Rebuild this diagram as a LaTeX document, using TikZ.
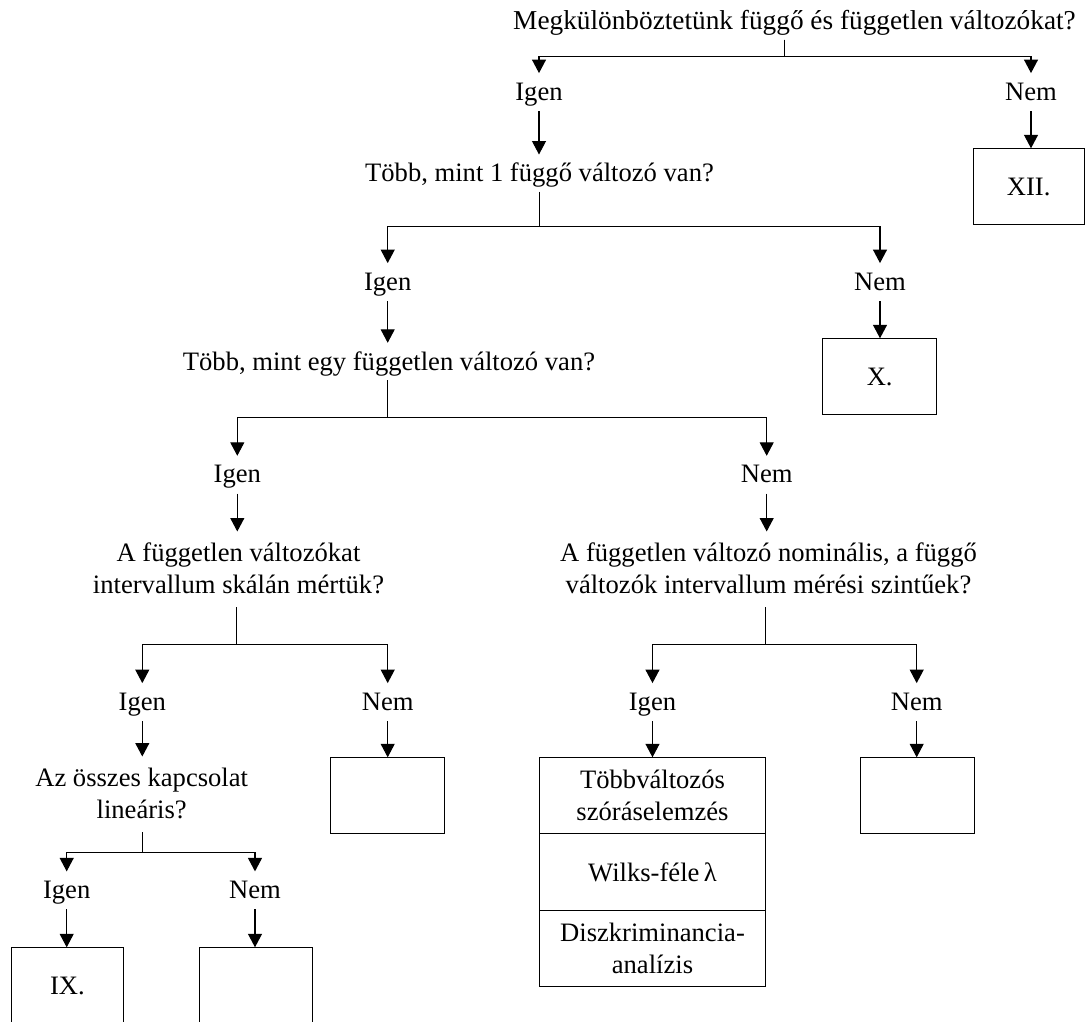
\documentclass[tikz,border=0pt]{standalone}
\usepackage{fontspec}
\setmainfont{Liberation Serif}
\usetikzlibrary{arrows.meta}
% two centred lines whose node baseline is the first line's baseline
\newcommand{\twolines}[2]{\begin{tabular}[t]{@{}c@{}}#1\\#2\end{tabular}}
\begin{document}
\begin{tikzpicture}[x=1pt,y=-1pt,
  every node/.style={font=\fontsize{26.6pt}{31.7pt}\selectfont, inner sep=0pt},
  lbl/.style={anchor=base, text height=26.7pt, text depth=10.8pt},
  q/.style={anchor=base, text height=27pt, text depth=10pt},
  qq/.style={anchor=base, text height=30pt, text depth=45.5pt},
  box/.style={draw, line width=1.1pt, minimum width=114pt, minimum height=76pt, anchor=north},
  cell/.style={minimum width=226.4pt, minimum height=76pt, anchor=north, align=center},
  link/.style={line width=1.1pt},
  arr/.style={link, -{Triangle[length=13.5pt,width=14pt]}},
]
\useasboundingbox (0,0) rectangle (1085,1021);
\clip (0,0) rectangle (1085,1021);

% ---- level 0
\node[q, font=\fontsize{27.3pt}{31.7pt}\selectfont] (q0) at (794.5,29.3) {Megkülönböztetünk függő és független változókat?};
\node[lbl] (igen1) at (539,100) {Igen};
\node[lbl] (nem1) at (1031,100) {Nem};
\node[box, minimum width=110.7pt] (xii) at (1028.7,148.3) {XII.};

% ---- level 1
\node[q] (q1) at (539.5,181.7) {Több, mint 1 függő változó van?};
\node[lbl] (igen2) at (387.7,290) {Igen};
\node[lbl] (nem2) at (880,290) {Nem};
\node[box] (x) at (879.7,338.3) {X.};

% ---- level 2
\node[q] (q2) at (389,370) {Több, mint egy független változó van?};
\node[lbl] (igen3) at (237.3,482.7) {Igen};
\node[lbl] (nem3) at (766.7,482.7) {Nem};

% ---- level 3
\node[qq] (q3) at (238.5,561.7) {\twolines{A független változókat}{intervallum skálán mértük?}};
\node[qq] (q4) at (768.5,561.7) {\twolines{A független változó nominális, a függő}{változók intervallum mérési szintűek?}};
\node[lbl] (igen4) at (142.3,710) {Igen};
\node[lbl] (nem4) at (387.7,710) {Nem};
\node[lbl] (igen5) at (652.5,710) {Igen};
\node[lbl] (nem5) at (916.7,710) {Nem};

\node[box] (b4) at (387.8,757.3) {};
\node[box] (b5) at (917.7,757.3) {};

% three-cell result box
\node[cell] (s1) at (652.5,757.3) {Többváltozós\\szóráselemzés};
\node[cell] (s2) at (s1.south) {Wilks-féle\,λ};
\node[cell] (s3) at (s2.south) {Diszkriminancia-\\analízis};
\draw[link] (s1.north west) rectangle (s3.south east);
\draw[link] (s1.south west) -- (s1.south east);
\draw[link] (s2.south west) -- (s2.south east);

% ---- level 4
\node[qq] (q5) at (141.7,786.7) {\twolines{Az összes kapcsolat}{lineáris?}};
\node[lbl] (igen6) at (66.7,898.3) {Igen};
\node[lbl] (nem6) at (255,898.3) {Nem};
\node[box, minimum width=111.6pt] (ix) at (67.5,947.3) {IX.};
\node[box, minimum width=113pt] (b6) at (255.8,947.3) {};

% ---- connectors
\draw[arr] ([xshift=-10pt]q0.south) -- ++(0,16.7) -| (igen1.north);
\draw[arr] ([xshift=-10pt]q0.south) -- ++(0,16.7) -| (nem1.north);
\draw[arr] (igen1.south) -- (igen1.south |- q1.north);
\draw[arr] (nem1.south) -- (nem1.south |- xii.north);

\draw[arr] (q1.south) -- ++(0,35) -| (igen2.north);
\draw[arr] (q1.south) -- ++(0,35) -| (nem2.north);
\draw[arr] (igen2.south) -- (igen2.south |- q2.north);
\draw[arr] (nem2.south) -- (nem2.south |- x.north);

\draw[arr] ([xshift=-1.3pt]q2.south) -- ++(0,37.3) -| (igen3.north);
\draw[arr] ([xshift=-1.3pt]q2.south) -- ++(0,37.3) -| (nem3.north);
\draw[arr] (igen3.south) -- (igen3.south |- q3.north);
\draw[arr] (nem3.south) -- (nem3.south |- q4.north);

\draw[arr] ([xshift=-1.8pt]q3.south) -- ++(0,37.1) -| (igen4.north);
\draw[arr] ([xshift=-1.8pt]q3.south) -- ++(0,37.1) -| (nem4.north);
\draw[arr] (igen4.south) -- (igen4.south |- q5.north);
\draw[arr] (nem4.south) -- (nem4.south |- b4.north);

\draw[arr] ([xshift=-2.8pt]q4.south) -- ++(0,37.1) -| (igen5.north);
\draw[arr] ([xshift=-2.8pt]q4.south) -- ++(0,37.1) -| (nem5.north);
\draw[arr] (igen5.south) -- (igen5.south |- s1.north);
\draw[arr] (nem5.south) -- (nem5.south |- b5.north);

\draw[arr] ([xshift=0.6pt]q5.south) -- ++(0,20.1) -| (igen6.north);
\draw[arr] ([xshift=0.6pt]q5.south) -- ++(0,20.1) -| (nem6.north);
\draw[arr] (igen6.south) -- (igen6.south |- ix.north);
\draw[arr] (nem6.south) -- (nem6.south |- b6.north);
\end{tikzpicture}
\end{document}
